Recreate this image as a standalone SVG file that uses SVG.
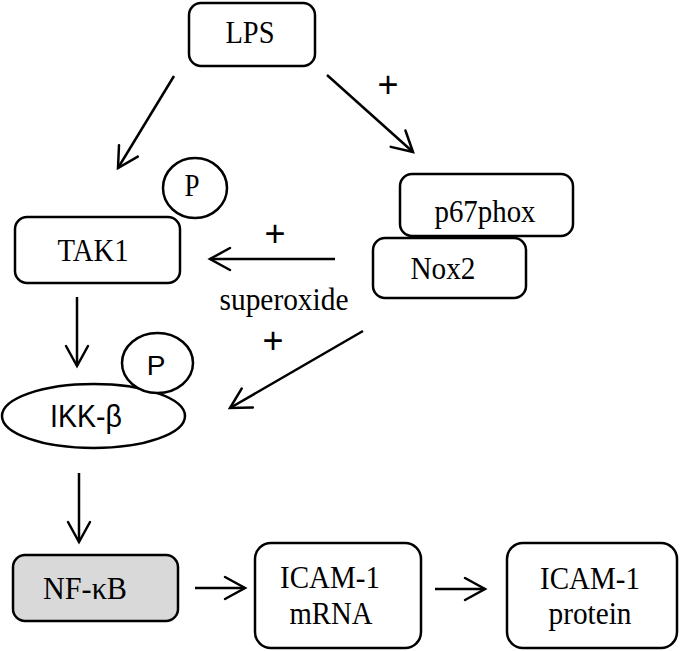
<svg xmlns="http://www.w3.org/2000/svg" width="680" height="651" viewBox="0 0 680 651">
<style>
.box{fill:#fff;stroke:#000;stroke-width:2.5}
.gray{fill:#d9d9d9}
.t{font-family:"Liberation Serif","Times New Roman",serif;font-size:31px;fill:#000;text-anchor:middle}
.s{font-family:"Liberation Sans",Arial,sans-serif;fill:#000;text-anchor:middle}
.c line{stroke:#000;stroke-width:2.5;marker-end:url(#ah)}
</style>
<defs>
<marker id="ah" markerUnits="userSpaceOnUse" viewBox="-24 -14 28 28" markerWidth="28" markerHeight="28" refX="0" refY="0" orient="auto">
<path d="M-20,-11 L0,0 L-20,11" fill="none" stroke="#000" stroke-width="2.5" stroke-linecap="round" stroke-linejoin="miter"/>
</marker>
</defs>
<g id="LPS"><rect class="box" x="189" y="3" width="126" height="63" rx="12"/><text class="t" x="250" y="43" textLength="49" lengthAdjust="spacingAndGlyphs">LPS</text></g>
<g id="p67phox"><rect class="box" x="400" y="174" width="173" height="62" rx="12"/><text class="t" x="485" y="222" textLength="101" lengthAdjust="spacingAndGlyphs">p67phox</text></g>
<g id="Nox2"><rect class="box" x="373" y="238" width="153" height="60" rx="12"/><text class="t" x="443" y="279" textLength="65" lengthAdjust="spacingAndGlyphs">Nox2</text></g>
<g id="TAK1"><rect class="box" x="15" y="217" width="165" height="66" rx="12"/><text class="t" x="93" y="261" textLength="71" lengthAdjust="spacingAndGlyphs">TAK1</text></g>
<g id="P1"><ellipse class="box" cx="195" cy="188" rx="32" ry="30"/><text class="t" x="192" y="196" textLength="15" lengthAdjust="spacingAndGlyphs">P</text></g>
<g id="IKK"><ellipse class="box" cx="93.5" cy="416" rx="91.5" ry="32"/><text class="s" x="86" y="427" font-size="32" textLength="72" lengthAdjust="spacingAndGlyphs">IKK-β</text></g>
<g id="P2"><ellipse class="box" cx="157.5" cy="363" rx="35.5" ry="30"/><text class="s" x="156" y="375" font-size="28">P</text></g>
<g id="NFkB"><rect class="box gray" x="13" y="555" width="165" height="66" rx="12"/><text class="t" x="85" y="599" textLength="84" lengthAdjust="spacingAndGlyphs">NF-κB</text></g>
<g id="mRNA"><rect class="box" x="255" y="543" width="166" height="105" rx="16"/><text class="t" x="330" y="588" textLength="100" lengthAdjust="spacingAndGlyphs">ICAM-1</text><text class="t" x="331" y="624" textLength="83" lengthAdjust="spacingAndGlyphs">mRNA</text></g>
<g id="protein"><rect class="box" x="507" y="543" width="170" height="105" rx="16"/><text class="t" x="590" y="589" textLength="100" lengthAdjust="spacingAndGlyphs">ICAM-1</text><text class="t" x="590" y="624" textLength="83" lengthAdjust="spacingAndGlyphs">protein</text></g>
<g id="labels">
<text class="s" x="388" y="96.6" font-size="36">+</text>
<text class="s" x="275" y="245.6" font-size="36">+</text>
<text class="t" x="284" y="310" textLength="129" lengthAdjust="spacingAndGlyphs">superoxide</text>
<text class="s" x="273" y="352.6" font-size="36">+</text>
</g>
<g class="c" id="connectors">
<line x1="174" y1="76" x2="118" y2="168"/>
<line x1="327" y1="75" x2="413" y2="152"/>
<line x1="335" y1="259" x2="210" y2="259"/>
<line x1="363" y1="331" x2="230" y2="408"/>
<line x1="77" y1="297" x2="77" y2="366"/>
<line x1="79" y1="473" x2="79" y2="542"/>
<line x1="195" y1="588" x2="245" y2="588"/>
<line x1="435" y1="589" x2="485" y2="589"/>
</g>
</svg>
